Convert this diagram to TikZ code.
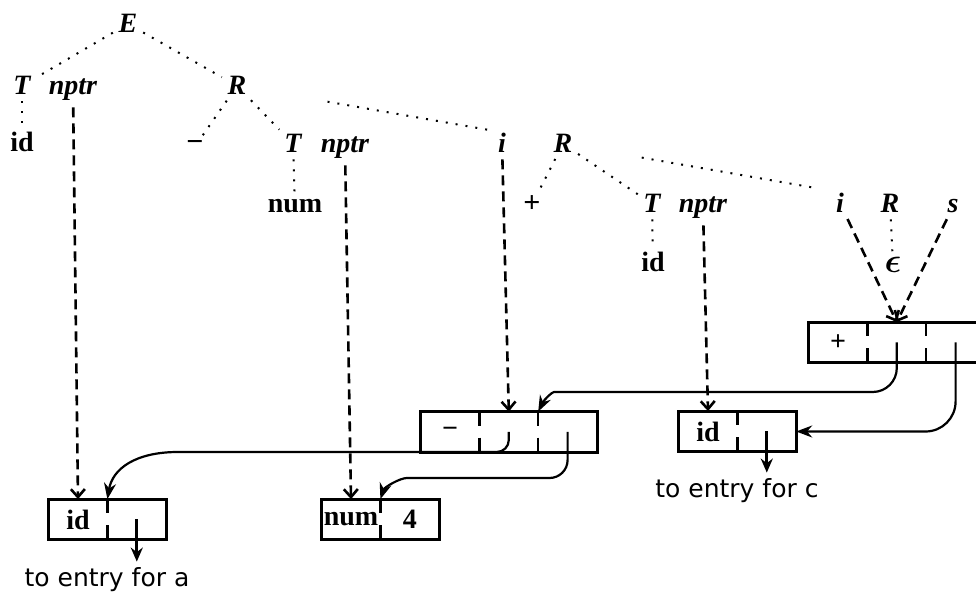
\documentclass[tikz,border=0pt]{standalone}
\usepackage{amsmath}
\usepackage{fontspec}
\setmainfont{Liberation Serif}
\newfontfamily\entryfont{DejaVu Sans}
\usetikzlibrary{arrows.meta, positioning}

\begin{document}
\begin{tikzpicture}[x=0.5pt, y=-0.5pt,
    sym/.style={font=\fontsize{14}{16}\selectfont\bfseries\itshape, inner sep=1pt, anchor=base},
    tok/.style={font=\fontsize{14}{16}\selectfont\bfseries, inner sep=1pt, anchor=base},
    sign/.style={font=\fontsize{15}{16}\selectfont\bfseries, inner sep=1pt, anchor=base},
    tree/.style={line width=1pt, dash pattern=on 1pt off 4pt, shorten <=2pt, shorten >=2pt},
    attr/.style={line width=1.3pt, dash pattern=on 5pt off 3pt, shorten <=2pt,
        -{Straight Barb[length=4pt,width=7pt,line width=1.3pt]}},
    field/.style={minimum width=29pt, minimum height=20pt, inner sep=0pt,
        font=\fontsize{14}{16}\selectfont\bfseries},
    box/.style={line width=1.5pt},
    divider/.style={line width=1.2pt, dash pattern=on 7pt off 6pt},
    ptr/.style={line width=1.1pt, -{Stealth[length=8pt,width=6pt]}},
    entry/.style={line width=1.6pt, shorten >=1pt, -{Stealth[length=7pt,width=6pt]}},
    note/.style={font=\entryfont\fontsize{12.5}{14}\selectfont, inner sep=2pt, anchor=base}
]
    \definecolor{inkColour}{HTML}{000000}

    % Fix the picture size
    \useasboundingbox (0,0) rectangle (976,592);

    % Draw the parse tree labels
    \node[sym] (E) at (128,33) {E};
    \node[sym] (T1) at (22,95) {T};
    \node[sym] (nptr1) at (73,95) {nptr};
    \node[sym] (R1) at (237,95) {R};
    \node[tok] (id1) at (22,152) {id};
    \node[sign] (minus) at (195,152) {−};
    \node[sym] (T2) at (293,153) {T};
    \node[sym] (nptr2) at (345,153) {nptr};
    \node[sym] (i1) at (502,153) {i};
    \node[sym] (R2) at (563,153) {R};
    \node[tok] (num) at (295,213) {num};
    \node[sign] (plus) at (532,213) {+};
    \node[sym] (T3) at (652,213) {T};
    \node[sym] (nptr3) at (703,213) {nptr};
    \node[sym] (i2) at (840,213) {i};
    \node[sym] (R3) at (890,213) {R};
    \node[sym] (s) at (953,213) {s};
    \node[tok] (id3) at (653,272) {id};
    \node[tok] (eps) at (893,273) {\fontsize{17}{18}\selectfont$\boldsymbol{\epsilon}$};

    % Draw the parse tree edges
    \draw[tree] (E) -- (T1);
    \draw[tree] (E) -- (R1);
    \draw[tree] (T1) -- (id1);
    \draw[tree] (R1) -- (minus);
    \draw[tree] (R1) -- (T2);
    \draw[tree, shorten <=40pt, shorten >=4pt] (R1) -- (i1.north west);
    \draw[tree] (T2) -- (num);
    \draw[tree] (R2) -- (plus);
    \draw[tree] (R2) -- (T3);
    \draw[tree, shorten <=34pt, shorten >=10pt] (R2) -- (i2.north west);
    \draw[tree] (T3) -- (id3);
    \draw[tree] (R3) -- (eps);

    % Define the record for id a
    \node[field] (a1) at (78,519.5) {id};
    \node[field, right=0pt of a1] (a2) {};
    \draw[box] (a1.north west) rectangle (a2.south east);
    \draw[divider] (a1.north east) -- (a1.south east);

    % Define the record for num 4
    \node[field] (n1) at (351,519.5) {num};
    \node[field, right=0pt of n1] (n2) {4};
    \draw[box] (n1.north west) rectangle (n2.south east);
    \draw[divider] (n1.north east) -- (n1.south east);

    % Define the record for the minus node
    \node[field] (m1) at (450,432) {−};
    \node[field, right=0pt of m1] (m2) {};
    \node[field, right=0pt of m2] (m3) {};
    \draw[box] (m1.north west) rectangle (m3.south east);
    \draw[divider] (m1.north east) -- (m1.south east);
    \draw[divider] (m2.north east) -- (m2.south east);

    % Define the record for id c
    \node[field] (c1) at (708,431.5) {id};
    \node[field, right=0pt of c1] (c2) {};
    \draw[box] (c1.north west) rectangle (c2.south east);
    \draw[divider] (c1.north east) -- (c1.south east);

    % Define the record for the plus node
    \node[field] (p1) at (838,342.5) {+};
    \node[field, right=0pt of p1] (p2) {};
    \node[field, right=0pt of p2] (p3) {};
    \draw[box] (p1.north west) rectangle (p3.south east);
    \draw[divider] (p1.north east) -- (p1.south east);
    \draw[divider] (p2.north east) -- (p2.south east);

    % Draw the attribute pointers
    \draw[attr] (nptr1) -- (a1.north);
    \draw[attr] (nptr2) -- (n1.north);
    \draw[attr] (i1) -- (m2.north);
    \draw[attr] (nptr3) -- (c1.north);
    \draw[attr] (i2) -- (p2.north);
    \draw[attr] (s) -- (p2.north);

    % Draw the record pointers
    \coordinate (bendP) at (578,392);
    \coordinate (bendM) at (190,452);
    \coordinate (bendN) at (425,478);
    \draw[ptr, rounded corners=12pt] (p2.center) |- (bendP)
        .. controls +(-26,0) and +(6,-12) .. (m2.north east);
    \draw[ptr, rounded corners=15pt] (p3.center) |- (c2.east);
    \draw[ptr, rounded corners=6pt] (m2.center) |- (bendM)
        .. controls +(-55,0) and +(5,-30) .. (a1.north east);
    \draw[ptr, rounded corners=9pt] (m3.center) |- (bendN)
        .. controls +(-25,0) and +(4,-12) .. (n1.north east);

    % Draw the symbol table entries
    \node[note] (entryA) at (107,587) {to entry for a};
    \node[note] (entryC) at (737,498) {to entry for c};
    \draw[entry] (a2.center) -- (a2.center |- entryA.north);
    \draw[entry] (c2.center) -- (c2.center |- entryC.north);

\end{tikzpicture}
\end{document}
